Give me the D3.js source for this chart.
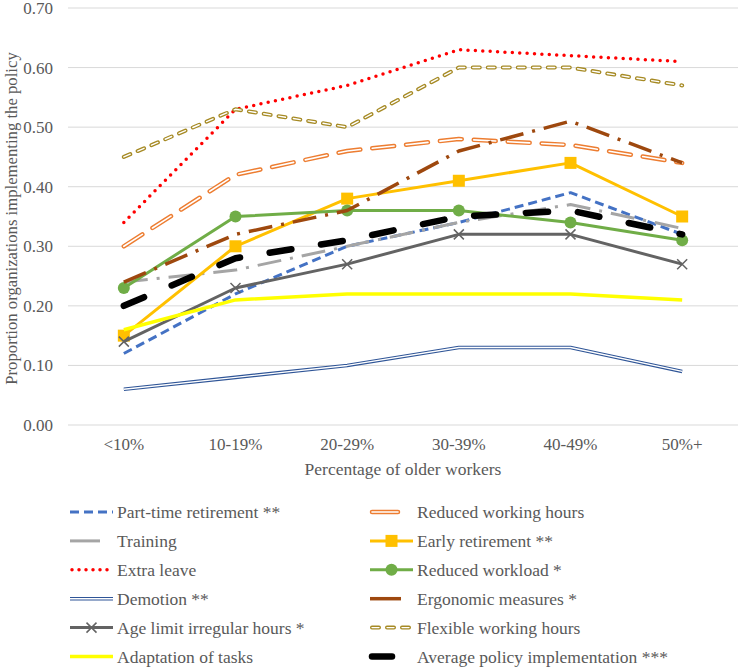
<!DOCTYPE html>
<html>
<head>
<meta charset="utf-8">
<script src="https://cdn.jsdelivr.net/npm/d3@7"></script>
<style>
  body { margin: 0; background: #fff; }
</style>
</head>
<body>
<svg id="chart" width="740" height="667"></svg>
<script>
var categories = ["<10%", "10-19%", "20-29%", "30-39%", "40-49%", "50%+"]
var yTicks = [0, 0.1, 0.2, 0.3, 0.4, 0.5, 0.6, 0.7]

// series in Excel order (legend fills row by row)
var partTime      = [0.12, 0.22, 0.30, 0.34, 0.39, 0.32]
var reducedHours  = [0.30, 0.42, 0.46, 0.48, 0.47, 0.44]
var training      = [0.24, 0.26, 0.30, 0.34, 0.37, 0.33]
var earlyRetire   = [0.15, 0.30, 0.38, 0.41, 0.44, 0.35]
var extraLeave    = [0.34, 0.53, 0.57, 0.63, 0.62, 0.61]
var reducedLoad   = [0.23, 0.35, 0.36, 0.36, 0.34, 0.31]
var demotion      = [0.06, 0.08, 0.10, 0.13, 0.13, 0.09]
var ergonomic     = [0.24, 0.32, 0.36, 0.46, 0.51, 0.44]
var ageLimit      = [0.14, 0.23, 0.27, 0.32, 0.32, 0.27]
var flexible      = [0.45, 0.53, 0.50, 0.60, 0.60, 0.57]
var adaptation    = [0.16, 0.21, 0.22, 0.22, 0.22, 0.21]
var average       = [0.20, 0.28, 0.31, 0.35, 0.36, 0.32]

var seriesNames = ["Part-time retirement **", "Reduced working hours", "Training", "Early retirement **",
    "Extra leave", "Reduced workload *", "Demotion **", "Ergonomic measures *",
    "Age limit irregular hours *", "Flexible working hours", "Adaptation of tasks", "Average policy implementation ***"]
var seriesValues = [partTime, reducedHours, training, earlyRetire, extraLeave, reducedLoad,
    demotion, ergonomic, ageLimit, flexible, adaptation, average]

// line styles, same order
var styles = [
    {color: "#4472C4", width: 3, dash: "9,5"},
    {color: "#ED7D31", width: 4.5, dash: "22,12", cap: "round", inner: 1.6},
    {color: "#A5A5A5", width: 3, dash: "24,9,3,9"},
    {color: "#FFC000", width: 3, marker: "square"},
    {color: "#FF0000", width: 3.5, dash: "0,7.4", cap: "round"},
    {color: "#70AD47", width: 3, marker: "circle"},
    {color: "#2F5597", width: 3.6, inner: 1.4},
    {color: "#9E480E", width: 3.5, dash: "24,9,3,9"},
    {color: "#636363", width: 3, marker: "x"},
    {color: "#A68A24", width: 4, dash: "7,8", cap: "round", inner: 1.4},
    {color: "#FFFF00", width: 3.5},
    {color: "#000000", width: 6.5, dash: "22,30", cap: "round"}
]

var dims = {width: 740, height: 667, margin: {top: 8, left: 68, right: 2, bottom: 242}}
var svg = d3.select("#chart")
var fontFam = "'Liberation Serif'"
var textColor = "#595959"

var xScale = d3.scaleBand()
    .domain(categories)
    .range([dims.margin.left, dims.width - dims.margin.right])

var yScale = d3.scaleLinear()
    .domain([0, 0.7])
    .range([dims.height - dims.margin.bottom, dims.margin.top])

// gridlines
svg.append("g")
    .selectAll("line")
    .data(yTicks)
    .enter()
    .append("line")
    .attr("x1", dims.margin.left)
    .attr("x2", dims.width - dims.margin.right)
    .attr("y1", d => yScale(d))
    .attr("y2", d => yScale(d))
    .attr("stroke", "#D9D9D9")
    .attr("stroke-width", 1)

var yAxis = svg.append("g")
    .attr("transform", "translate(" + (dims.margin.left - 12) + ",0)")
    .call(d3.axisLeft(yScale).tickValues(yTicks).tickFormat(d3.format(".2f")).tickSize(0))
yAxis.select(".domain").remove()
yAxis.selectAll("text")
    .attr("fill", textColor)
    .style("font-family", fontFam)
    .style("font-size", "17px")

var xAxis = svg.append("g")
    .attr("transform", "translate(0," + (yScale(0) + 10) + ")")
    .call(d3.axisBottom(xScale).tickSize(0))
xAxis.select(".domain").remove()
xAxis.selectAll("text")
    .attr("fill", textColor)
    .style("font-family", fontFam)
    .style("font-size", "17px")

svg.append("text")
    .attr("x", (dims.margin.left + dims.width - dims.margin.right) / 2)
    .attr("y", yScale(0) + 50)
    .attr("text-anchor", "middle")
    .attr("fill", textColor)
    .style("font-family", fontFam)
    .style("font-size", "17.5px")
    .text("Percentage of older workers")

svg.append("text")
    .attr("transform", "rotate(-90)")
    .attr("x", -(yScale(0) + yScale(0.7)) / 2 - 2)
    .attr("y", 17)
    .attr("text-anchor", "middle")
    .attr("fill", textColor)
    .style("font-family", fontFam)
    .style("font-size", "16.7px")
    .text("Proportion organizations implementing the policy")

var line = d3.line()
    .x((d, i) => xScale(categories[i]) + xScale.bandwidth() / 2)
    .y(d => yScale(d))

function drawLine(g, pathD, st) {
    g.append("path")
        .attr("d", pathD)
        .attr("fill", "none")
        .attr("stroke", st.color)
        .attr("stroke-width", st.width)
        .attr("stroke-dasharray", st.dash || null)
        .attr("stroke-linecap", st.cap || "butt")
        .attr("stroke-linejoin", "round")
    if (st.inner) {
        g.append("path")
            .attr("d", pathD)
            .attr("fill", "none")
            .attr("stroke", "#fff")
            .attr("stroke-width", st.inner)
            .attr("stroke-dasharray", st.dash || null)
            .attr("stroke-linecap", st.cap || "butt")
            .attr("stroke-linejoin", "round")
    }
}

function drawMarker(g, x, y, st) {
    if (st.marker == "square") {
        g.append("rect").attr("x", x - 6).attr("y", y - 6).attr("width", 12).attr("height", 12)
            .attr("fill", st.color)
    } else if (st.marker == "circle") {
        g.append("circle").attr("cx", x).attr("cy", y).attr("r", 6).attr("fill", st.color)
    } else if (st.marker == "x") {
        g.append("path")
            .attr("d", "M" + (x - 5) + "," + (y - 5) + "L" + (x + 5) + "," + (y + 5) +
                "M" + (x - 5) + "," + (y + 5) + "L" + (x + 5) + "," + (y - 5))
            .attr("stroke", st.color).attr("stroke-width", 1.5).attr("fill", "none")
    }
}

var plot = svg.append("g")
seriesValues.forEach(function(vals, k) {
    var st = styles[k]
    var g = plot.append("g")
    drawLine(g, line(vals), st)
    if (st.marker) {
        vals.forEach(function(v, i) {
            drawMarker(g, xScale(categories[i]) + xScale.bandwidth() / 2, yScale(v), st)
        })
    }
})

// legend: two columns, filled row by row
var legend = svg.append("g")
seriesNames.forEach(function(name, k) {
    var col = k % 2
    var row = Math.floor(k / 2)
    var x0 = col == 0 ? 70 : 370
    var y0 = 512 + row * 28.9
    var st = styles[k]
    var g = legend.append("g")
    var swEnd = x0 + 43
    if (k == 2) swEnd = x0 + 30
    if (k == 1) swEnd = x0 + 30
    if (k == 7) swEnd = x0 + 31
    if (k == 11) swEnd = x0 + 24
    var swStyle = Object.assign({}, st)
    if (k == 2 || k == 7 || k == 1 || k == 11) swStyle.dash = null
    if (k == 4) swStyle.dash = "0,7"
    drawLine(g, "M" + (x0 + (st.cap == "round" ? 2 : 0)) + "," + y0 + "L" + (swEnd - (st.cap == "round" ? 2 : 0)) + "," + y0, swStyle)
    if (st.marker) drawMarker(g, x0 + 21.5, y0, st)
    g.append("text")
        .attr("x", x0 + 47)
        .attr("y", y0)
        .attr("dy", "0.35em")
        .attr("fill", textColor)
        .style("font-family", fontFam)
        .style("font-size", "17.5px")
        .text(name)
})
</script>
</body>
</html>
